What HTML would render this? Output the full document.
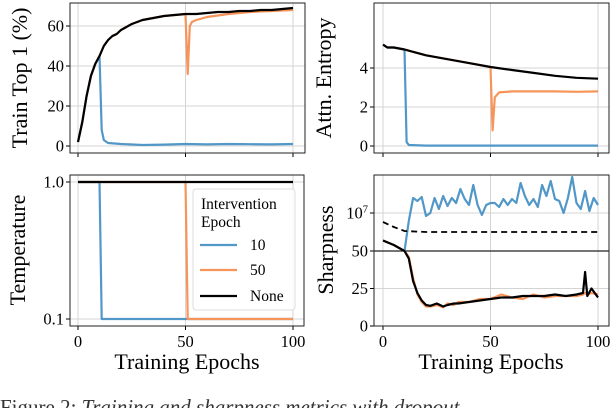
<!DOCTYPE html>
<html><head><meta charset="utf-8"><style>
body{margin:0;background:#fff;}
svg{display:block;font-family:"Liberation Serif",serif;}
</style></head><body>
<svg id="fig" width="612" height="408" viewBox="0 0 612 408">
<g id="root"></g>
<text x="0" y="414" font-size="21" fill="#333">Figure 2: <tspan font-style="italic">Training and sharpness metrics with dropout</tspan></text>
</svg>
<script>
// ---- data ----
const accEpochs=[0,2,4,6,8,10,12,14,16,18,20,25,30,35,40,45,50,55,60,65,70,75,80,85,90,95,100];
const accNone=[2,12,25,35,41,45,50,53,55,56,58,61,63,64,65,65.5,66,66,66.5,67,67,67.5,67.5,68,68,68.5,69];
const accOrangeEpochs=[0,2,4,6,8,10,12,14,16,18,20,25,30,35,40,45,50,51,52,53,55,60,70,80,90,100];
const accOrange=[2,12,25,35,41,45,50,53,55,56,58,61,63,64,65,65.5,66,36,60,62,63,64.5,66,67,67.5,68];
const accBlueEpochs=[0,2,4,6,8,10,11,12,14,20,30,40,50,60,70,80,90,100];
const accBlue=[2,12,25,35,41,45,8,3,1.5,1,0.5,0.7,1,0.8,1,0.9,0.8,1];

const entEpochs=[0,2,5,10,15,20,30,40,50,60,70,80,90,100];
const entNone=[5.2,5.05,5.05,4.95,4.8,4.65,4.45,4.25,4.05,3.9,3.75,3.6,3.5,3.45];
const entOrangeEpochs=[0,2,5,10,15,20,30,40,50,51,52,54,60,70,80,90,100];
const entOrange=[5.2,5.05,5.05,4.95,4.8,4.65,4.45,4.25,4.05,0.8,2.5,2.75,2.8,2.8,2.8,2.78,2.8];
const entBlueEpochs=[0,2,5,10,11,12,20,40,60,80,100];
const entBlue=[5.2,5.05,5.05,4.95,0.2,0.05,0.02,0.02,0.02,0.02,0.02];

const tempEpochs=[0,10,11,50,51,100];
const tempNone=[1,1,1,1,1,1];
const tempBlue=[1,1,0.1,0.1,0.1,0.1];
const tempOrange=[1,1,1,1,0.1,0.1];

const shEpochs=[0,5,10,12,14,16,18,20,22,25,28,30,33,35,40,45,50,55,60,65,70,75,80,85,90,93,94,95,97,100];
const shNone=[57,54,50,45,30,22,17,14,13.5,15,13,14,15,15,16,17,18,19,19,20,20,20,21,20,21,22,36,20,25,19];
const shOrange=[57,54,50,46,32,21,16,13,13,14,12.5,15,14,16,16,18,18,21,19,18,21,19,20,20,20,21,22,21,22,21];
const dashEpochs=[0,5,10,20,40,60,80,100];
const dashLog=[6.55,6.3,6.1,6.05,6.05,6.05,6.05,6.05];
const blueLogEpochs=[12,14,16,18,20,22,24,26,28,30,32,34,36,38,40,42,44,46,48,50,52,54,56,58,60,62,64,66,68,70,72,74,76,78,80,82,84,86,88,90,92,94,96,98,100];
const blueLog=[6.6,7.75,7.6,7.8,6.85,7.0,7.75,7.2,7.85,7.35,7.75,7.5,8.2,7.7,7.4,8.4,7.4,6.9,7.4,7.5,7.5,7.3,7.7,7.4,7.7,7.5,8.5,7.85,7.4,7.7,7.3,8.4,7.85,8.6,7.7,7.6,7.0,7.75,8.8,7.5,7.2,8.1,7.1,7.75,7.4];

const C_BLUE="#5197c7",C_OR="#f79459",C_BLK="#000";
const NS="http://www.w3.org/2000/svg";
const root=document.getElementById('root');
function el(tag,attrs,parent){const e=document.createElementNS(NS,tag);for(const k in attrs)e.setAttribute(k,attrs[k]);(parent||root).appendChild(e);return e;}
function txt(s,attrs,parent){const e=el('text',attrs,parent);e.textContent=s;return e;}

function panel(name,L,T,R,B,x0,x1){
  const g=el('g',{});
  
  
  const sx=v=>x0+(x1-x0)*v/100;
  [0,50,100].forEach(t=>{
    const gl=el('line',{x1:sx(t),x2:sx(t),y1:T,y2:B,stroke:'#d4d4d4','stroke-width':1},g);
    
    
    const tk=el('line',{x1:sx(t),x2:sx(t),y1:B,y2:B+4,stroke:'#000','stroke-width':1},g);
    
    
  });
  return {g,sx,L,T,R,B};
}
function frame(p){const f=el('rect',{x:p.L,y:p.T,width:p.R-p.L,height:p.B-p.T,fill:'none',stroke:'#222','stroke-width':1},p.g);
  
  }
function ytick(p,y,label){
  const gl=el('line',{x1:p.L,x2:p.R,y1:y,y2:y,stroke:'#d4d4d4','stroke-width':1},p.g);
  
  
  el('line',{x1:p.L-4,x2:p.L,y1:y,y2:y,stroke:'#000'},p.g);
  const t=txt(label,{x:p.L-6,y:y+5.5,'font-size':16.5,'text-anchor':'end'},p.g);
  
  
  return t;
}
function xlabels(p){[0,50,100].forEach(t=>{const e=txt(String(t),{x:p.sx(t),y:p.B+21,'font-size':16.5,'text-anchor':'middle'},p.g);
  
  });}
function line(p,xs,ys,fy,color,name,extra){
  const d=xs.map((x,i)=>(i?'L':'M')+p.sx(x).toFixed(1)+','+fy(ys[i]).toFixed(1)).join(' ');
  const a={d,fill:'none',stroke:color,'stroke-width':2.2,'stroke-linejoin':'round'};
  if(extra)Object.assign(a,extra);
  const e=el('path',a,p.g);
  
  
  return e;
}
function ylabel(s,x,y,name){const e=txt(s,{x:x,y:y,'font-size':22,'text-anchor':'middle',transform:`rotate(-90 ${x} ${y})`});
  
  }

// Panel 1
const p1=panel('train-top1-panel',70,3,305,153,78,293);
const y1=v=>146-2*v;
[0,20,40,60].forEach(t=>ytick(p1,y1(t),String(t)));
line(p1,accBlueEpochs,accBlue,y1,C_BLUE,'series-10');
line(p1,accOrangeEpochs,accOrange,y1,C_OR,'series-50');
line(p1,accEpochs,accNone,y1,C_BLK,'series-none');
frame(p1);
ylabel('Train Top 1 (%)',27,78,'y-axis-title-train-top1');

// Panel 2
const p2=panel('attn-entropy-panel',374,3,609,153,383,598);
const y2=v=>146-19.5*v;
[0,2,4].forEach(t=>ytick(p2,y2(t),String(t)));
line(p2,entBlueEpochs,entBlue,y2,C_BLUE,'series-10');
line(p2,entOrangeEpochs,entOrange,y2,C_OR,'series-50');
line(p2,entEpochs,entNone,y2,C_BLK,'series-none');
frame(p2);
ylabel('Attn. Entropy',331,78,'y-axis-title-attn-entropy');

// Panel 3
const p3=panel('temperature-panel',70,175,304,326,78,293);
const y3=v=>182+(0-Math.log10(v))*137;
ytick(p3,y3(1),'1.0');ytick(p3,y3(0.1),'0.1');
line(p3,tempEpochs,tempBlue,y3,C_BLUE,'series-10');
line(p3,tempEpochs,tempOrange,y3,C_OR,'series-50');
line(p3,tempEpochs,tempNone,y3,C_BLK,'series-none');
frame(p3);xlabels(p3);
ylabel('Temperature',25,250,'y-axis-title-temperature');
const lg=el('g',{});


el('rect',{x:193,y:189,width:102,height:121,rx:3,fill:'#fff','fill-opacity':0.85,stroke:'#ddd'},lg);
txt('Intervention',{x:201,y:209,'font-size':15.5},lg);
txt('Epoch',{x:201,y:227,'font-size':15.5},lg);
[['10',C_BLUE,245],['50',C_OR,270],['None',C_BLK,296]].forEach(([l,c,y])=>{
  const g=el('g',{},lg);
  
  
  el('line',{x1:200,x2:237,y1:y,y2:y,stroke:c,'stroke-width':2.2},g);
  txt(l,{x:250,y:y+5,'font-size':15.5},g);
});

// Panel 4
const p4=panel('sharpness-panel',374,175,609,326,383,598);
const y4=v=>326-1.5*v;
const y4u=l=>213-20*(l-7);
[0,25].forEach(t=>ytick(p4,y4(t),String(t)));
ytick(p4,y4(50),'50');
const t7=ytick(p4,y4u(7),'');
t7.innerHTML='10<tspan dy="-6" font-size="10.5">7</tspan>';
el('line',{x1:374,x2:609,y1:y4(50),y2:y4(50),stroke:'#222','stroke-width':1.2},p4.g);
line(p4,[10,blueLogEpochs[0]],[0,0],(v,i)=>0,C_BLUE,'series-10-jump').setAttribute('d',`M${p4.sx(10)},${y4(50)} L${p4.sx(blueLogEpochs[0])},${y4u(blueLog[0])}`);
line(p4,blueLogEpochs,blueLog,y4u,C_BLUE,'series-10');
line(p4,shEpochs,shOrange,y4,C_OR,'series-50');
line(p4,shEpochs,shNone,y4,C_BLK,'series-none');
line(p4,dashEpochs,dashLog,y4u,C_BLK,'series-none-dashed',{'stroke-dasharray':'6,4','stroke-width':1.8});
frame(p4);xlabels(p4);
ylabel('Sharpness',333,250,'y-axis-title-sharpness');

const xt1=txt('Training Epochs',{x:187,y:369,'font-size':22,'text-anchor':'middle'});


const xt2=txt('Training Epochs',{x:491,y:369,'font-size':22,'text-anchor':'middle'});


</script>
</body></html>
